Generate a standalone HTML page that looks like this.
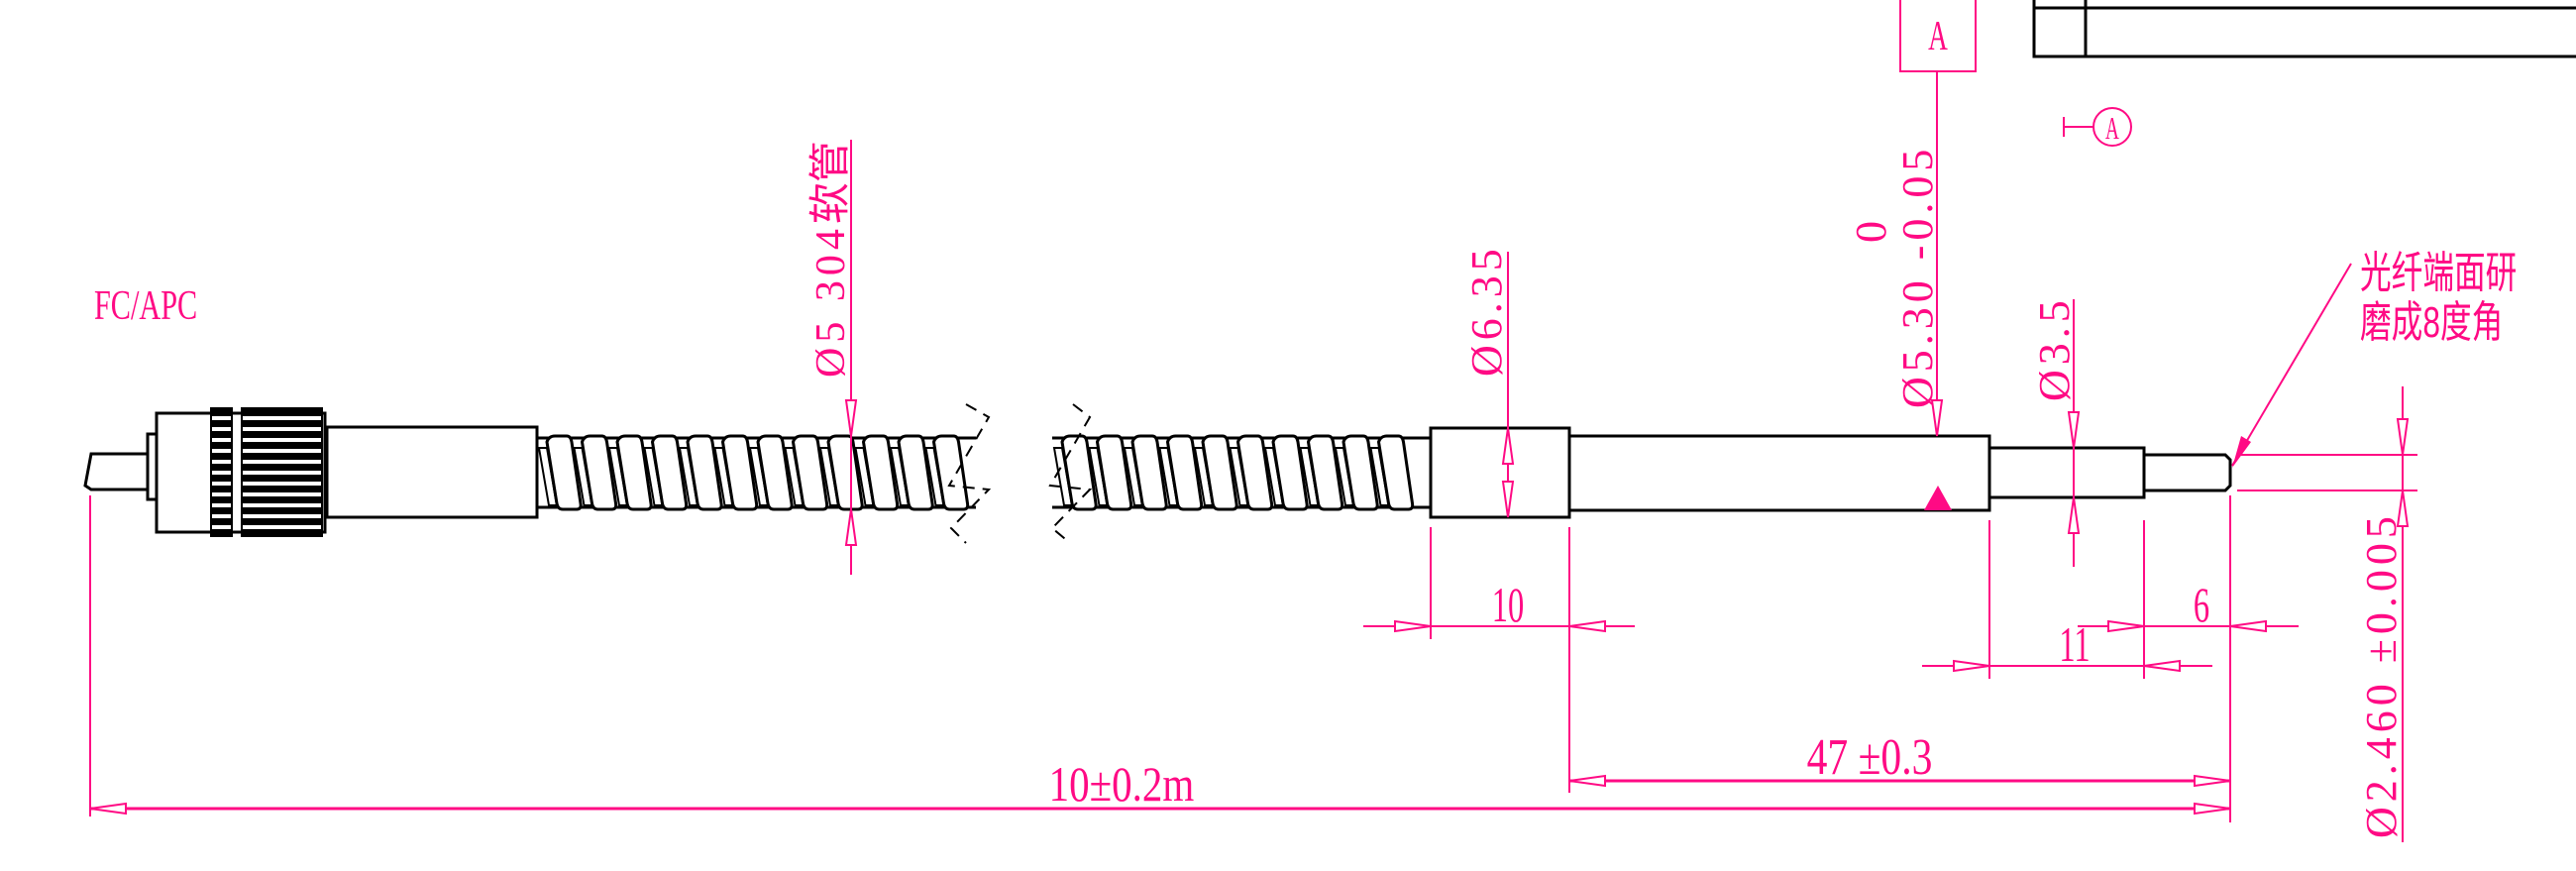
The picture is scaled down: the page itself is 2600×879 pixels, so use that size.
<!DOCTYPE html>
<html><head><meta charset="utf-8"><style>
html,body{margin:0;padding:0;background:#fff;}
svg{display:block;}
.p{stroke:#ff0a84;fill:none;stroke-width:2;}
.k{stroke:#000;fill:#fff;stroke-width:3;}
.t{fill:#ff0a84;font-family:"Liberation Serif","Noto Serif CJK SC",serif;}
.r{fill:#ff0a84;font-family:"Liberation Serif","Noto Serif CJK SC",serif;letter-spacing:5px;}
.c{fill:#ff0a84;font-family:"Liberation Sans","Noto Sans CJK SC",sans-serif;}
</style></head><body>
<svg id="s" width="2600" height="879" viewBox="0 0 2600 879" xmlns="http://www.w3.org/2000/svg">
<rect x="2053" y="-4" width="560" height="61" fill="none" stroke="#000" stroke-width="3"/>
<line x1="2053" y1="8" x2="2600" y2="8" stroke="#000" stroke-width="3"/>
<line x1="2105" y1="0" x2="2105" y2="57" stroke="#000" stroke-width="3"/>
<rect x="1918" y="-4" width="76" height="76" class="p"/>
<text x="1956" y="50" class="t" font-size="42" text-anchor="middle" transform="translate(1956 0) scale(0.65 1) translate(-1956 0)">A</text>
<line x1="1955" y1="72" x2="1955" y2="490" class="p"/>
<line x1="2083" y1="118" x2="2083" y2="138" class="p"/><line x1="2083" y1="128" x2="2113" y2="128" class="p"/>
<circle cx="2132" cy="128" r="19" class="p"/>
<text x="2132" y="140" class="t" font-size="32" text-anchor="middle" transform="translate(2132 0) scale(0.6 1) translate(-2132 0)">A</text>

<polygon points="92,458 149,458 149,494 92,494 86,490" class="k"/>
<rect x="149" y="438" width="9" height="66" class="k"/>
<rect x="158" y="417" width="170" height="120" class="k"/>
<g id="kn"></g>
<rect x="330" y="431" width="212" height="91" class="k"/>
<g id="sp"></g>
<g stroke="#000" stroke-width="2" stroke-dasharray="12,8" fill="none">
<polyline points="975,408 998,421 958,490 998,494 960,533 975,548"/>
<polyline points="1083,408 1100,421 1060,490 1100,494 1062,533 1080,548"/>
</g>
<rect x="1444" y="432" width="140" height="90" class="k" fill="none"/>
<rect x="1584" y="440" width="424" height="75" class="k" fill="none"/>
<rect x="2008" y="452" width="156" height="50" class="k" fill="none"/>
<polygon points="2164,459 2246,459 2251,464 2251,490 2246,495 2164,495" class="k" fill="none"/>
<polygon points="1942,515 1970,515 1956,490" fill="#ff0a84"/>

<g id="dims"></g>

<text x="95" y="322" class="t" font-size="42" transform="translate(95 0) scale(0.72 1) translate(-95 0)">FC/APC</text>
<text class="r" font-size="42" transform="translate(852 381) rotate(-90)">Ø5 304<tspan class="c" letter-spacing="0">软管</tspan></text>
<text class="r" font-size="44" transform="translate(1515 380) rotate(-90)">Ø6.35</text>
<text class="r" font-size="44" transform="translate(1950 412) rotate(-90)">Ø5.30 -0.05</text>
<text class="r" font-size="44" transform="translate(1903 245) rotate(-90)">0</text>
<text class="r" font-size="44" transform="translate(2088 405) rotate(-90)">Ø3.5</text>
<text class="r" font-size="44" transform="translate(2418 846) rotate(-90)">Ø2.460 ±0.005</text>
<text x="2382" y="290" class="c" font-size="44" transform="translate(2382 0) scale(0.72 1) translate(-2382 0)">光纤端面研</text>
<text x="2382" y="340" class="c" font-size="44" transform="translate(2382 0) scale(0.72 1) translate(-2382 0)">磨成8度角</text>
<text x="1522" y="627" class="t" font-size="50" text-anchor="middle" transform="translate(1522 0) scale(0.65 1) translate(-1522 0)">10</text>
<text x="2094" y="667" class="t" font-size="50" text-anchor="middle" transform="translate(2094 0) scale(0.65 1) translate(-2094 0)">11</text>
<text x="2222" y="627" class="t" font-size="50" text-anchor="middle" transform="translate(2222 0) scale(0.65 1) translate(-2222 0)">6</text>
<text x="1887" y="781" class="t" font-size="52" text-anchor="middle" transform="translate(1887 0) scale(0.8 1) translate(-1887 0)">47 ±0.3</text>
<text x="1132" y="808" class="t" font-size="50" text-anchor="middle" transform="translate(1132 0) scale(0.82 1) translate(-1132 0)">10±0.2m</text>
</svg>
<script>
var NS="http://www.w3.org/2000/svg";
function el(p,n,a){var e=document.createElementNS(NS,n);for(var k in a)e.setAttribute(k,a[k]);p.appendChild(e);return e;}
var kn=document.getElementById('kn');
el(kn,'rect',{x:212,y:411,width:23,height:131,fill:'#000'});
el(kn,'rect',{x:243,y:411,width:83,height:131,fill:'#000'});
for(var y=422;y<535;y+=11){el(kn,'line',{x1:214,y1:y,x2:233,y2:y,stroke:'#fff','stroke-width':4});el(kn,'line',{x1:245,y1:y,x2:324,y2:y,stroke:'#fff','stroke-width':4});}
var sp=document.getElementById('sp');
function spring(a,b){
 el(sp,'line',{x1:a,y1:442,x2:b,y2:442,stroke:'#000','stroke-width':3});
 el(sp,'line',{x1:a,y1:512,x2:b,y2:512,stroke:'#000','stroke-width':3});
 for(var x=a;x<b-30;x+=35.5){
  el(sp,'path',{d:'M'+(x+2)+',452 L'+(x+10)+',452 L'+(x+20)+',510 L'+(x+12)+',510 Z',fill:'#fff',stroke:'#000','stroke-width':2});
  el(sp,'path',{d:'M'+(x+10)+',446 Q'+(x+12)+',440 '+(x+18)+',440 L'+(x+30)+',440 Q'+(x+34)+',440 '+(x+35)+',446 L'+(x+44)+',508 Q'+(x+45)+',514 '+(x+40)+',514 L'+(x+26)+',514 Q'+(x+21)+',514 '+(x+20)+',508 Z',fill:'#fff',stroke:'#000','stroke-width':3});
 }
}
spring(542,985);spring(1062,1443);
var d=document.getElementById('dims');
function L(x1,y1,x2,y2,w){el(d,'line',{x1:x1,y1:y1,x2:x2,y2:y2,stroke:'#ff0a84','stroke-width':w||2});}
function A(x,y,dx,dy){var l=36,w=5;var bx=x-dx*l,by=y-dy*l;var px=-dy*w,py=dx*w;
 el(d,'polygon',{points:x+','+y+' '+(bx+px)+','+(by+py)+' '+(bx-px)+','+(by-py),fill:'#fff',stroke:'#ff0a84','stroke-width':2});}
L(859,141,859,580);A(859,440,0,1);A(859,514,0,-1);
L(1522,254,1522,522);A(1522,432,0,-1);A(1522,522,0,1);
A(1955,440,0,1);
L(2093,302,2093,572);A(2093,452,0,1);A(2093,502,0,-1);
L(2373,266,2253,470);
el(d,'polygon',{points:'2253,472 2262,440 2272,446',fill:'#ff0a84'});
L(2258,459,2440,459);L(2258,495,2440,495);L(2425,390,2425,850);A(2425,459,0,1);A(2425,495,0,-1);
L(91,500,91,824);L(1444,532,1444,645);L(1584,532,1584,800);
L(2008,525,2008,685);L(2164,525,2164,685);L(2251,500,2251,830);
L(1376,632,1650,632);A(1444,632,1,0);A(1584,632,-1,0);
L(2097,632,2320,632);A(2164,632,1,0);A(2251,632,-1,0);
L(1940,672,2233,672);A(2008,672,1,0);A(2164,672,-1,0);
L(1584,788,2251,788,3);A(1584,788,-1,0);A(2251,788,1,0);
L(91,816,2251,816,3);A(91,816,-1,0);A(2251,816,1,0);
</script>
</body></html>
